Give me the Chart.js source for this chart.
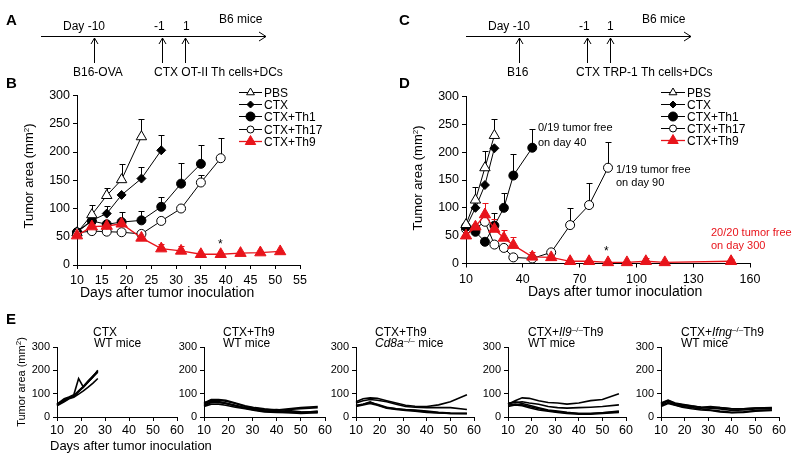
<!DOCTYPE html>
<html>
<head>
<meta charset="utf-8">
<script src="https://cdn.jsdelivr.net/npm/chart.js@4.4.1/dist/chart.umd.min.js"></script>
<style>
  body { margin: 0; background: #fff; font-family: "Liberation Sans", Arial, sans-serif; }
  #fig { position: relative; width: 800px; height: 459px; overflow: hidden; }
  #fig canvas { position: absolute; left: 0; top: 0; }
  #fig svg { position: absolute; left: 0; top: 0; }
  .t { position: absolute; white-space: nowrap; color: #000; font-size: 12px; line-height: 1; transform: translateY(-50%); }
  .lab { font-weight: bold; font-size: 15px; }
  .ttl { font-size: 14px; }
  .yt { font-size: 13px; transform: translate(-50%, -50%) rotate(-90deg); }
  .note { font-size: 11px; }
  .red { color: #e8141b; }
  sup { font-size: 8px; vertical-align: 4px; line-height: 0; }
</style>
</head>
<body>
<div id="fig">
  <svg width="800" height="459">
    <g stroke="#000" stroke-width="1" fill="none">
      <line x1="41" y1="36.5" x2="266" y2="36.5"/>
      <polyline points="259,32 266,36.5 259,41"/>
      <line x1="94.5" y1="38" x2="94.5" y2="63"/><polyline points="91,44 94.5,38 98,44"/>
      <line x1="162.5" y1="38" x2="162.5" y2="63"/><polyline points="159,44 162.5,38 166,44"/>
      <line x1="185.5" y1="38" x2="185.5" y2="63"/><polyline points="182,44 185.5,38 189,44"/>

      <line x1="466" y1="36.5" x2="691" y2="36.5"/>
      <polyline points="684,32 691,36.5 684,41"/>
      <line x1="519.5" y1="38" x2="519.5" y2="63"/><polyline points="516,44 519.5,38 523,44"/>
      <line x1="587.5" y1="38" x2="587.5" y2="63"/><polyline points="584,44 587.5,38 591,44"/>
      <line x1="610.5" y1="38" x2="610.5" y2="63"/><polyline points="607,44 610.5,38 614,44"/>
    </g>
  </svg>

  <canvas id="chartB" width="800" height="459"></canvas>
  <canvas id="chartD" width="800" height="459"></canvas>
  <canvas id="chartE1" width="800" height="459"></canvas>
  <canvas id="chartE2" width="800" height="459"></canvas>
  <canvas id="chartE3" width="800" height="459"></canvas>
  <canvas id="chartE4" width="800" height="459"></canvas>
  <canvas id="chartE5" width="800" height="459"></canvas>

  <!-- panel letters -->
  <div class="t lab" style="left:6px;top:19px">A</div>
  <div class="t lab" style="left:399px;top:19px">C</div>
  <div class="t lab" style="left:6px;top:82px">B</div>
  <div class="t lab" style="left:399px;top:82px">D</div>
  <div class="t lab" style="left:6px;top:318px">E</div>

  <!-- timeline A -->
  <div class="t" style="left:63px;top:26px">Day -10</div>
  <div class="t" style="left:154px;top:26px">-1</div>
  <div class="t" style="left:183px;top:26px">1</div>
  <div class="t" style="left:219px;top:19px">B6 mice</div>
  <div class="t" style="left:73px;top:72px">B16-OVA</div>
  <div class="t" style="left:154px;top:72px">CTX OT-II Th cells+DCs</div>

  <!-- timeline C -->
  <div class="t" style="left:488px;top:26px">Day -10</div>
  <div class="t" style="left:579px;top:26px">-1</div>
  <div class="t" style="left:607px;top:26px">1</div>
  <div class="t" style="left:642px;top:19px">B6 mice</div>
  <div class="t" style="left:507px;top:72px">B16</div>
  <div class="t" style="left:576px;top:72px">CTX TRP-1 Th cells+DCs</div>

  <!-- panel B / D titles -->
  <div class="t yt" style="left:28px;top:176px">Tumor area (mm<sup>2</sup>)</div>
  <div class="t ttl" style="left:80px;top:292px">Days after tumor inoculation</div>
  <div class="t" style="left:218px;top:244px">*</div>

  <div class="t yt" style="left:417px;top:178px">Tumor area (mm<sup>2</sup>)</div>
  <div class="t ttl" style="left:528px;top:291px">Days after tumor inoculation</div>
  <div class="t" style="left:604px;top:251px">*</div>
  <div class="t note" style="left:538px;top:127px">0/19 tumor free</div>
  <div class="t note" style="left:538px;top:142px">on day 40</div>
  <div class="t note" style="left:616px;top:169px">1/19 tumor free</div>
  <div class="t note" style="left:616px;top:182px">on day 90</div>
  <div class="t note red" style="left:711px;top:232px">20/20 tumor free</div>
  <div class="t note red" style="left:711px;top:245px">on day 300</div>

  <!-- panel E titles -->
  <div class="t yt" style="left:21px;top:382px;font-size:11px">Tumor area (mm<sup>2</sup>)</div>
  <div class="t" style="left:50px;top:445px;font-size:13px">Days after tumor inoculation</div>
  <div class="t" style="left:93px;top:332px">CTX</div>
  <div class="t" style="left:94px;top:343px">WT mice</div>
  <div class="t" style="left:223px;top:332px">CTX+Th9</div>
  <div class="t" style="left:223px;top:343px">WT mice</div>
  <div class="t" style="left:375px;top:332px">CTX+Th9</div>
  <div class="t" style="left:375px;top:343px"><i>Cd8a</i><sup>–/–</sup> mice</div>
  <div class="t" style="left:528px;top:332px">CTX+<i>Il9</i><sup>–/–</sup>Th9</div>
  <div class="t" style="left:528px;top:343px">WT mice</div>
  <div class="t" style="left:681px;top:332px">CTX+<i>Ifng</i><sup>–/–</sup>Th9</div>
  <div class="t" style="left:681px;top:343px">WT mice</div>
</div>

<script>
// ---- panel B (B16-OVA) ----
const bDays = [10, 13, 16, 19, 23, 27, 31, 35, 39, 43, 47, 51];
const bPbs  = [57, 89, 123, 151, 227];
const bCtx  = [59, 79, 91, 124, 153, 203];
const bTh1  = [58, 78, 72, 76, 79, 103, 144, 179];
const bTh17 = [57, 60, 59, 58, 55, 78, 100, 146, 189];
const bTh9  = [52, 68, 69, 73, 48, 29, 25, 19, 19, 21, 22, 24];
// upper ends of error bars
const bPbsTop  = [null, 107, 137, 178, 258];
const bCtxTop  = [null, null, 105, null, 174, 230];
const bTh1Top  = [null, null, null, 93, 95, 121, 180, 213];
const bTh17Top = [null, null, null, null, null, null, null, 160, 225];
const bTh9Top  = [null, 72, null, null, null, 38, 33];

// ---- panel D (B16) ----
const dDays = [10, 15, 20, 25, 30, 35, 45, 55, 65, 75, 85, 95, 105, 115, 150];
const dPbs  = [70, 114, 172, 230];
const dCtx  = [65, 100, 141, 207];
const dTh1  = [66, 57, 39, 68, 100, 158, 208];
const dTh17 = [62, 63, 75, 34, 28, 11, 9, 20, 69, 105, 172];
const dTh9  = [50, 66, 88, 62, 46, 33, 12, 11, 4, 4, 2, 2, 4, 2, 4];
const dPbsTop  = [null, 138, 202, 260];
const dTh1Top  = [null, null, null, 91, 126, 196, 241];
const dTh17Top = [null, null, null, null, null, null, null, null, 100, 145, 218];
const dTh9Top  = [null, null, 108, 80, 60, 48, 20, null, null, null, null, null, 9, null, 8];

// ---- panel E (individual mice) ----
const e1Days = [10, 13, 15, 17, 19, 21, 23, 25, 27];
const e1Mice = [
  [52, 68, 80, 88, 108, 128, 150, 172, 200],
  [50, 72, 84, 92, 112, 132, 155, 175, 195],
  [55, 78, 86, 95, 165, 128, 150, 172, 192],
  [48, 65, 78, 85, 98, 112, 128, 145, 165],
  [54, 74, 82, 90, 110, 130, 152, 176, 198]
];
const eDays = [10, 13, 16, 19, 23, 27, 31, 35, 40, 45, 50, 57];
const e2Mice = [
  [60, 75, 75, 72, 60, 48, 40, 35, 30, 35, 40, 45],
  [55, 72, 72, 68, 58, 45, 38, 32, 28, 32, 36, 40],
  [50, 65, 62, 58, 48, 40, 32, 25, 25, 22, 20, 22],
  [45, 55, 55, 50, 42, 35, 28, 22, 20, 18, 15, 18],
  [62, 68, 66, 60, 50, 40, 35, 30, 32, 28, 22, 20],
  [48, 62, 64, 58, 47, 38, 30, 25, 22, 20, 18, 25]
];
const e3Mice = [
  [65, 78, 82, 80, 70, 60, 50, 46, 45, 52, 65, 95],
  [60, 70, 75, 72, 65, 55, 45, 42, 40, 40, 40, 32],
  [50, 55, 62, 55, 42, 35, 30, 28, 22, 18, 15, 15],
  [45, 52, 58, 50, 38, 32, 28, 25, 20, 17, 15, 14],
  [48, 55, 65, 52, 40, 35, 32, 30, 25, 20, 17, 16]
];
const e4Mice = [
  [55, 70, 82, 80, 70, 62, 60, 55, 60, 70, 75, 100],
  [60, 62, 65, 60, 55, 45, 40, 38, 40, 42, 45, 52],
  [50, 55, 52, 45, 35, 28, 22, 18, 15, 15, 18, 22],
  [45, 52, 48, 40, 30, 25, 20, 15, 12, 12, 15, 20],
  [55, 65, 58, 50, 40, 30, 25, 20, 15, 15, 18, 25]
];
const e5Mice = [
  [60, 72, 60, 55, 48, 42, 40, 40, 35, 35, 38, 38],
  [55, 68, 55, 50, 45, 40, 38, 35, 28, 30, 35, 35],
  [50, 62, 52, 45, 40, 35, 30, 25, 20, 22, 28, 30],
  [45, 58, 50, 42, 35, 30, 28, 22, 18, 20, 25, 28],
  [58, 70, 58, 52, 47, 42, 45, 40, 35, 35, 38, 40]
];

const RED = '#e8141b';
Chart.defaults.font.family = '"Liberation Sans", Arial, sans-serif';
Chart.defaults.color = '#000';

function pts(days, vals) {
  return vals.map((v, i) => ({ x: days[i], y: v }));
}

// upward error bars with a cap
const errorBars = {
  id: 'errorBars',
  beforeDatasetsDraw(chart) {
    const ctx = chart.ctx, xs = chart.scales.x, ys = chart.scales.y;
    chart.data.datasets.forEach(ds => {
      if (!ds.tops) return;
      ctx.save();
      ctx.strokeStyle = ds.borderColor;
      ctx.lineWidth = 1;
      ds.data.forEach((p, i) => {
        const top = ds.tops[i];
        if (top == null) return;
        const x = Math.round(xs.getPixelForValue(p.x)) + 0.5;
        const y0 = ys.getPixelForValue(p.y), y1 = Math.round(ys.getPixelForValue(top)) + 0.5;
        ctx.beginPath();
        ctx.moveTo(x, y0); ctx.lineTo(x, y1);
        ctx.moveTo(x - 3, y1); ctx.lineTo(x + 3, y1);
        ctx.stroke();
      });
      ctx.restore();
    });
  }
};

// legend drawn as line + marker + label
const lineLegend = {
  id: 'lineLegend',
  afterDraw(chart) {
    const o = chart.options.plugins.lineLegend;
    if (!o || !o.x) return;
    const ctx = chart.ctx;
    chart.data.datasets.forEach((ds, i) => {
      const y = Math.round(o.y + i * o.gap) + 0.5;
      ctx.save();
      ctx.strokeStyle = ds.borderColor;
      ctx.lineWidth = ds.borderWidth;
      ctx.beginPath(); ctx.moveTo(o.x, y); ctx.lineTo(o.x + o.len, y); ctx.stroke();
      ctx.fillStyle = ds.pointBackgroundColor;
      ctx.strokeStyle = ds.pointBorderColor;
      ctx.lineWidth = 1;
      Chart.helpers.drawPoint(ctx, { pointStyle: ds.pointStyle, radius: ds.legendRadius, borderWidth: 1, rotation: 0 }, o.x + o.len / 2, y);
      ctx.fillStyle = '#000';
      ctx.font = o.font;
      ctx.textBaseline = 'middle';
      ctx.fillText(ds.label, o.x + o.len + 2, y + 1);
      ctx.restore();
    });
  }
};

function series(label, days, vals, tops, style) {
  const s = {
    PBS:  { pointStyle: 'triangle', pointRadius: 6,   bg: '#fff', col: '#000', legendRadius: 4.5 },
    CTX:  { pointStyle: 'rectRot',  pointRadius: 4.5, bg: '#000', col: '#000', legendRadius: 3.5 },
    Th1:  { pointStyle: 'circle',   pointRadius: 4.5, bg: '#000', col: '#000', legendRadius: 4.5 },
    Th17: { pointStyle: 'circle',   pointRadius: 4.5, bg: '#fff', col: '#000', legendRadius: 3.5 },
    Th9:  { pointStyle: 'triangle', pointRadius: 6.5, bg: RED,    col: RED,    legendRadius: 6 }
  }[style];
  return {
    label, data: pts(days, vals), tops,
    borderColor: s.col, borderWidth: style === 'Th9' ? 1.3 : 1,
    pointStyle: s.pointStyle, pointRadius: s.pointRadius, pointBorderWidth: 1,
    pointBackgroundColor: s.bg, pointBorderColor: s.col, legendRadius: s.legendRadius,
    order: style === 'Th9' ? 0 : 1, clip: false, tension: 0
  };
}

// area = chart area in page pixels; canvas covers the whole figure
function makeChart(id, area, xr, yr, datasets, opts) {
  const yw = 30, xh = 22;
  return new Chart(document.getElementById(id), {
    type: 'line',
    data: { datasets },
    options: {
      responsive: false, animation: false, events: [],
      layout: { padding: { left: area.x0 - yw, top: area.y0, right: 800 - area.x1, bottom: 459 - area.y1 - xh } },
      plugins: { legend: { display: false }, tooltip: { enabled: false }, lineLegend: opts.legend || {} },
      scales: {
        x: {
          type: 'linear', min: xr[0], max: xr[1],
          ticks: { stepSize: xr[2], autoSkip: false, maxRotation: 0, padding: opts.xPad, font: { size: opts.xFont } },
          grid: { drawOnChartArea: false, color: '#000', tickLength: 4 },
          border: { color: '#000', width: 1 },
          afterFit: s => { s.height = xh; }
        },
        y: {
          min: yr[0], max: yr[1],
          ticks: { stepSize: yr[2], padding: 3, font: { size: opts.yFont } },
          grid: { drawOnChartArea: false, color: '#000', tickLength: 4 },
          border: { color: '#000', width: 1 },
          afterFit: s => { s.width = yw; }
        }
      }
    },
    plugins: [errorBars, lineLegend]
  });
}

makeChart('chartB', { x0: 77, x1: 300, y0: 95.5, y1: 265 }, [10, 55, 5], [0, 300, 50], [
  series('PBS', bDays, bPbs, bPbsTop, 'PBS'),
  series('CTX', bDays, bCtx, bCtxTop, 'CTX'),
  series('CTX+Th1', bDays, bTh1, bTh1Top, 'Th1'),
  series('CTX+Th17', bDays, bTh17, bTh17Top, 'Th17'),
  series('CTX+Th9', bDays, bTh9, bTh9Top, 'Th9')
], { xFont: 12.5, yFont: 12.5, xPad: 4, legend: { x: 239, y: 91.5, gap: 12.4, len: 23, font: '12px "Liberation Sans", Arial, sans-serif' } });

makeChart('chartD', { x0: 466, x1: 750, y0: 96.5, y1: 263.5 }, [10, 160, 30], [0, 300, 50], [
  series('PBS', dDays, dPbs, dPbsTop, 'PBS'),
  series('CTX', dDays, dCtx, null, 'CTX'),
  series('CTX+Th1', dDays, dTh1, dTh1Top, 'Th1'),
  series('CTX+Th17', dDays, dTh17, dTh17Top, 'Th17'),
  series('CTX+Th9', dDays, dTh9, dTh9Top, 'Th9')
], { xFont: 12.5, yFont: 12.5, xPad: 5, legend: { x: 661, y: 92, gap: 12, len: 24, font: '12px "Liberation Sans", Arial, sans-serif' } });

function miceSets(days, mice) {
  return mice.map((m, i) => ({
    label: 'mouse ' + (i + 1), data: pts(days, m),
    borderColor: '#000', borderWidth: 1.6, pointRadius: 0, tension: 0, clip: false
  }));
}

const eOpts = { xFont: 12.5, yFont: 11, xPad: 2 };
makeChart('chartE1', { x0: 57, x1: 177, y0: 347, y1: 417 }, [10, 60, 10], [0, 300, 100], miceSets(e1Days, e1Mice), eOpts);
makeChart('chartE2', { x0: 204, x1: 325, y0: 347, y1: 417 }, [10, 60, 10], [0, 300, 100], miceSets(eDays, e2Mice), eOpts);
makeChart('chartE3', { x0: 356, x1: 474, y0: 347, y1: 417 }, [10, 60, 10], [0, 300, 100], miceSets(eDays, e3Mice), eOpts);
makeChart('chartE4', { x0: 508, x1: 626, y0: 347, y1: 417 }, [10, 60, 10], [0, 300, 100], miceSets(eDays, e4Mice), eOpts);
makeChart('chartE5', { x0: 661, x1: 779, y0: 347, y1: 417 }, [10, 60, 10], [0, 300, 100], miceSets(eDays, e5Mice), eOpts);
</script>
</body>
</html>
